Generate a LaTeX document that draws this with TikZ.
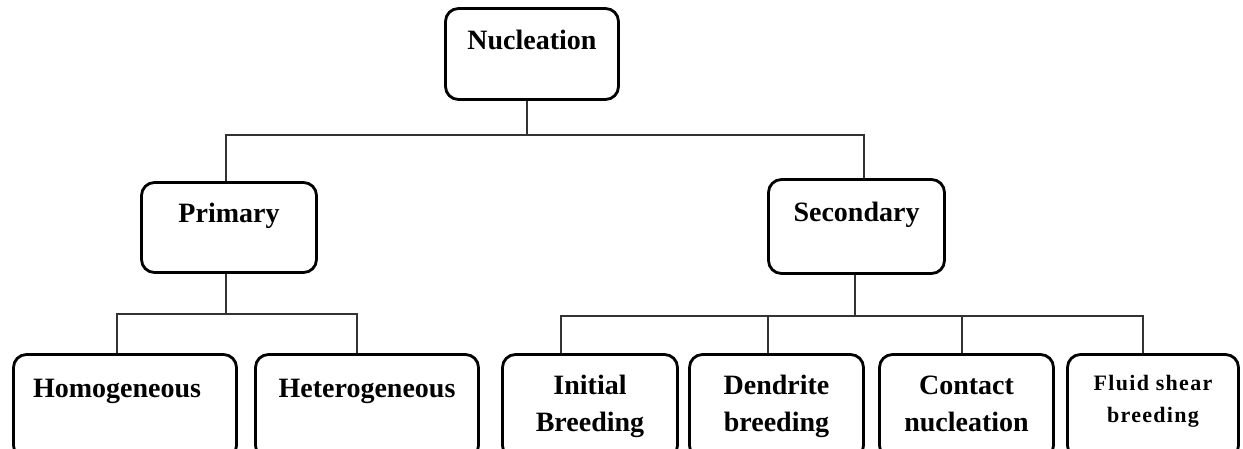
\documentclass[tikz,border=0pt]{standalone}
\usepackage{fontspec}
\setmainfont{Liberation Serif}
\usepackage{tikz}
\usetikzlibrary{positioning}

\begin{document}
\begin{tikzpicture}[
    x=1pt, y=-1pt,
    every node/.style={draw, rectangle, rounded corners=13pt, line width=2.8pt, align=center,
                       font=\bfseries\fontsize{28}{37}\selectfont},
    mainbox/.style={minimum width=173pt, minimum height=91pt, text height=20pt, text depth=30pt},
    leaf/.style={minimum width=174pt, minimum height=104pt},
    oneline/.style={text height=20pt, text depth=39pt},
    link/.style={line width=1.1pt, draw=black!80}
    ]
  \useasboundingbox (0,0) rectangle (1243,448);

  % upper levels
  \node[mainbox] (nuc) at (532,54) {Nucleation};
  \node[mainbox, minimum width=175pt, minimum height=90pt] (prim) at (229,227.5) {Primary};
  \node[mainbox, minimum width=176pt, minimum height=94pt] (sec) at (856.5,226.5) {Secondary};

  % leaves
  \node[leaf, oneline, minimum width=223pt] (homo) at (125,406.5) {Homogeneous\hspace*{16pt}};
  \node[leaf, oneline, minimum width=223pt] (hetero) at (367,406.5) {Heterogeneous};
  \node[leaf, minimum width=175pt] (init) at (590,406.5) {Initial\\Breeding};
  \node[leaf] (dend) at (776.5,406.5) {Dendrite\\breeding};
  \node[leaf] (cont) at (966.5,406.5) {Contact\\nucleation\vphantom{g}};
  \node[leaf, minimum width=171pt, font=\bfseries\fontsize{22}{32}\selectfont\addfontfeatures{LetterSpace=6}]
    (fluid) at (1153,406.5) {Fluid shear\\breeding\rule[-15pt]{0pt}{0pt}};

  % forks
  \coordinate (nfork) at (527,135);
  \coordinate (pfork) at (226,314);
  \coordinate (sfork) at (855,316);
  \coordinate (ddrop) at ([xshift=-8.5pt]dend.north);
  \coordinate (cdrop) at ([xshift=-4.5pt]cont.north);

  \draw[link] (nfork |- nuc.south) -- (nfork);
  \draw[link] ([xshift=-3pt]prim.north) |- (nfork) -| ([xshift=7.5pt]sec.north);

  \draw[link] (pfork |- prim.south) -- (pfork);
  \draw[link] ([xshift=-8pt]homo.north) |- (pfork) -| ([xshift=-10pt]hetero.north);

  \draw[link] (sfork |- sec.south) -- (sfork);
  \draw[link] ([xshift=-29pt]init.north) |- (sfork) -| ([xshift=-10pt]fluid.north);
  \draw[link] (ddrop) -- (ddrop |- sfork);
  \draw[link] (cdrop) -- (cdrop |- sfork);
\end{tikzpicture}
\end{document}
